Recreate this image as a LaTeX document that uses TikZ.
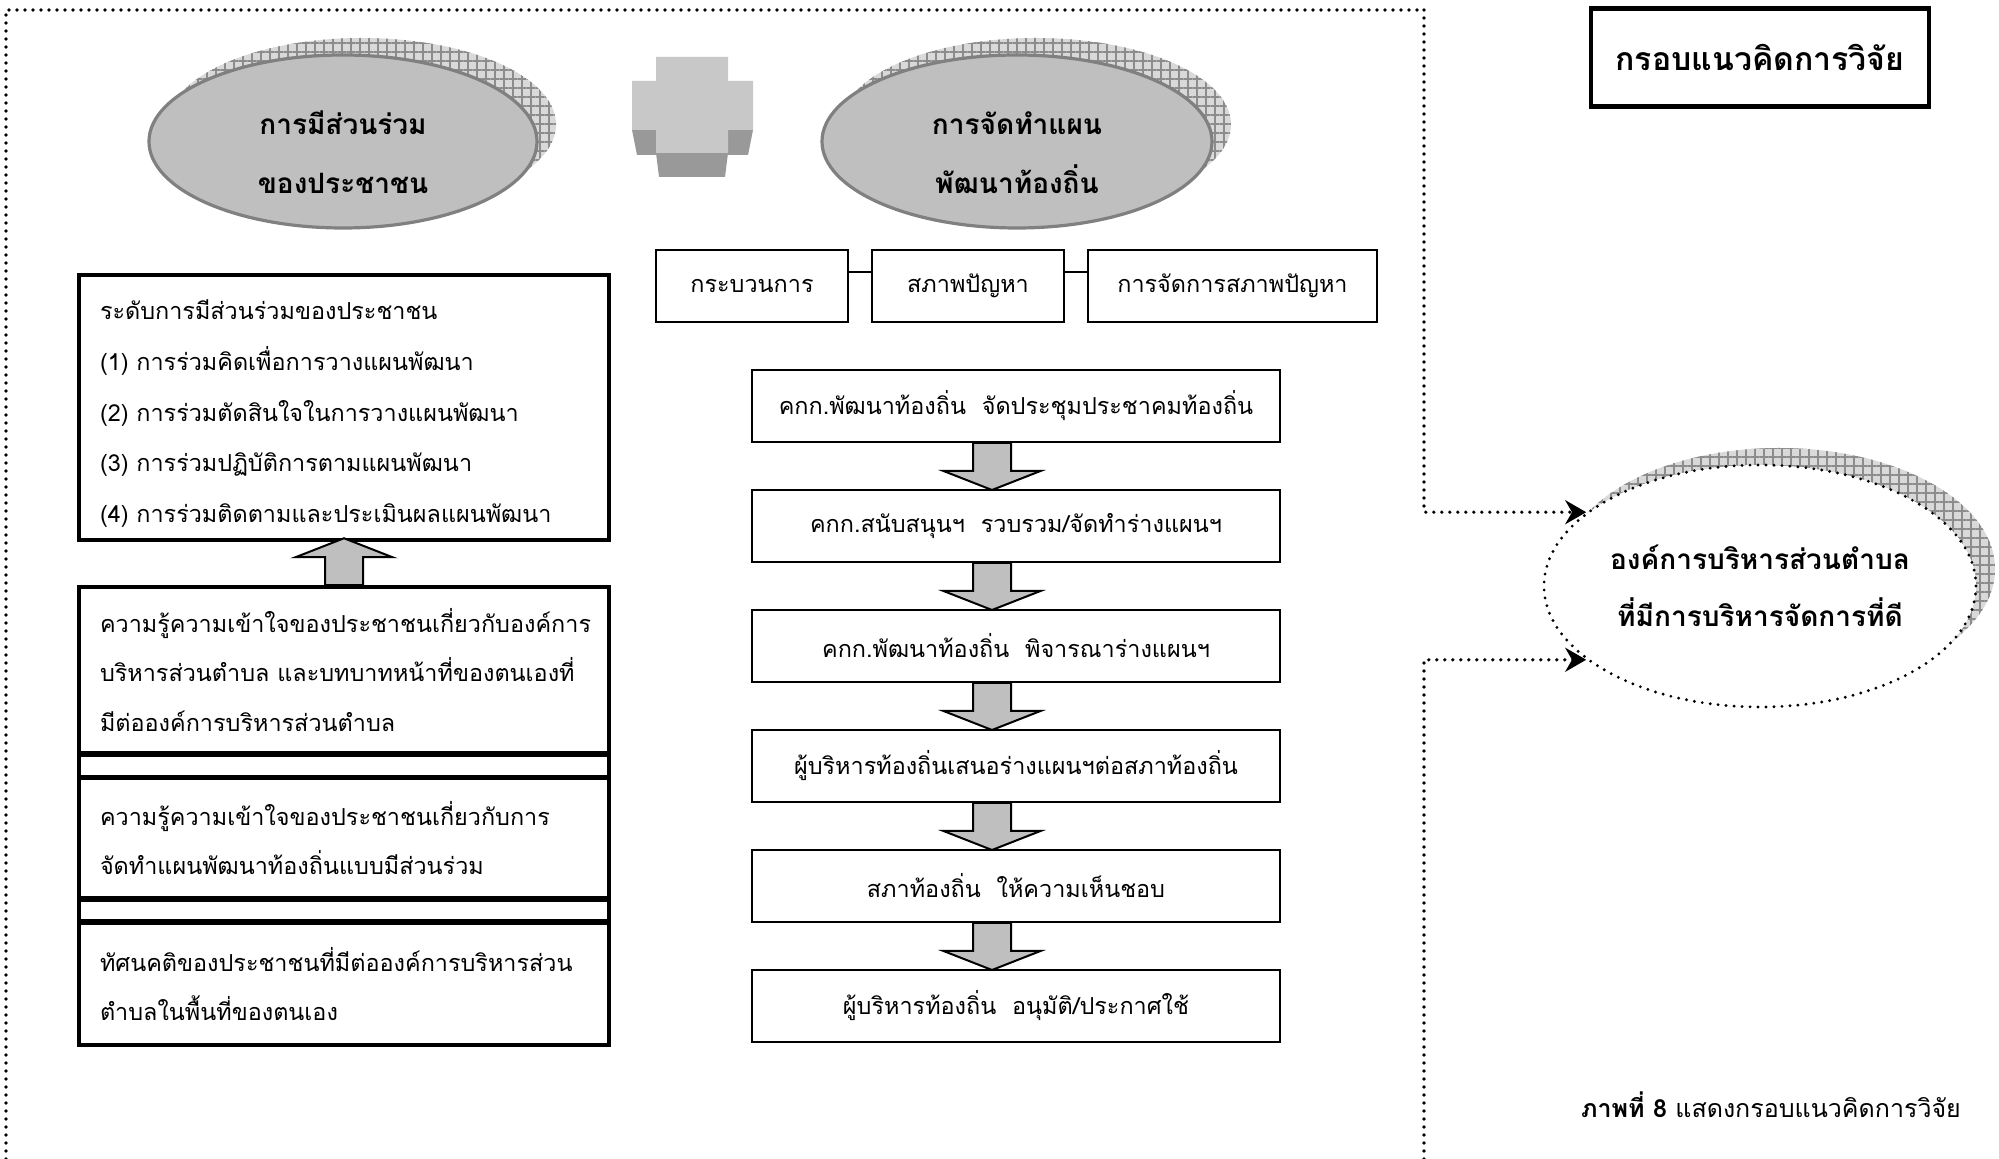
\documentclass[tikz,border=0pt]{standalone}
\usepackage{fontspec}
\setmainfont{Loma}[Script=Thai]
\usetikzlibrary{positioning,shapes.geometric,patterns.meta,shadows,arrows.meta,backgrounds}
\definecolor{plusface}{HTML}{C8C8C8}
\definecolor{plusside}{HTML}{999999}
\newcommand{\bodyfont}{\fontsize{11.7pt}{24.75pt}\selectfont}
\tikzset{
  dots/.style={line width=1.8pt, dash pattern=on 0pt off 4pt, line cap=round},
  hatchshadow/.style={general shadow={shadow xshift=9.5pt, shadow yshift=8.5pt, solid, fill=gray!30, draw=none},
    general shadow={shadow xshift=9.5pt, shadow yshift=8.5pt, solid, draw=none, pattern={Hatch[distance=4.5pt,angle=0,line width=0.6pt]}, pattern color=gray!90}},
  topic/.style={ellipse, draw=gray, line width=1.6pt, fill=gray!50, inner sep=0pt,
    minimum width=194pt, minimum height=86.5pt, hatchshadow},
  topictext/.style={align=center, font=\fontsize{14pt}{29.5pt}\bfseries\selectfont},
  goalshape/.style={ellipse, hatchshadow, draw, dots, line width=1.6pt, fill=white, inner sep=0pt, align=center,
    minimum width=216pt, minimum height=121pt, font=\fontsize{14pt}{28.5pt}\bfseries\selectfont},
  lbox/.style={draw, line width=1.75pt, minimum width=265pt, text width=244pt, inner xsep=10.5pt, align=left, font=\bodyfont},
  pbox/.style={draw, line width=1pt, minimum height=36pt, font=\bodyfont},
  row/.style={draw, line width=1pt, minimum width=264pt, minimum height=36pt, font=\bodyfont},
  pics/blkdown/.style={code={\draw[fill=gray!50, line width=1pt] (-19,0) -- (19,0) -- (19,28) -- (48.5,28) -- (0,47) -- (-48.5,28) -- (-19,28) -- cycle;}}
}
\begin{document}
\begin{tikzpicture}[x=0.5pt, y=-0.5pt]
  \path[use as bounding box, fill=white] (0,0) rectangle (1999,1159);

  % left side
  \node[lbox, minimum height=132.5pt, font=\fontsize{11.7pt}{25.4pt}\selectfont] (lvl) at (344,407.5) {\rule{0pt}{16pt}ระดับการมีส่วนร่วมของประชาชน\\(1) การร่วมคิดเพื่อการวางแผนพัฒนา\\(2) การร่วมตัดสินใจในการวางแผนพัฒนา\\(3) การร่วมปฏิบัติการตามแผนพัฒนา\\(4) การร่วมติดตามและประเมินผลแผนพัฒนา};
  \node[lbox, minimum height=83pt] (know1) at (344,670) {ความรู้ความเข้าใจของประชาชนเกี่ยวกับองค์การ\\บริหารส่วนตำบล และบทบาทหน้าที่ของตนเองที่\\มีต่อองค์การบริหารส่วนตำบล};
  \node[lbox, minimum height=11pt] (sp1) at (344,766) {};
  \node[lbox, minimum height=60pt] (know2) at (344,838) {ความรู้ความเข้าใจของประชาชนเกี่ยวกับการ\\จัดทำแผนพัฒนาท้องถิ่นแบบมีส่วนร่วม};
  \node[lbox, minimum height=10.5pt] (sp2) at (344,910.5) {};
  \node[lbox, minimum height=61pt] (att) at (344,984) {ทัศนคติของประชาชนที่มีต่อองค์การบริหารส่วน\\ตำบลในพื้นที่ของตนเอง};
  \pic[yscale=-1] at (know1.north) {blkdown};

  % right side
  \node[pbox, minimum width=96pt] (bA) at (752,286) {กระบวนการ};
  \node[pbox, minimum width=96pt] (bB) at (968,286) {สภาพปัญหา};
  \node[pbox, minimum width=144.5pt] (bC) at (1232.5,286) {การจัดการสภาพปัญหา};
  \draw[line width=1pt] ([yshift=-11.5pt]bA.north east) -- ([yshift=-11.5pt]bB.north west);
  \draw[line width=1pt] ([yshift=-11.5pt]bB.north east) -- ([yshift=-11.5pt]bC.north west);

  \foreach \t [count=\i] in {คกก.พัฒนาท้องถิ่น~~จัดประชุมประชาคมท้องถิ่น, คกก.สนับสนุนฯ~~รวบรวม/จัดทำร่างแผนฯ,
      คกก.พัฒนาท้องถิ่น~~พิจารณาร่างแผนฯ, ผู้บริหารท้องถิ่นเสนอร่างแผนฯต่อสภาท้องถิ่น,
      สภาท้องถิ่น~~ให้ความเห็นชอบ, ผู้บริหารท้องถิ่น~~อนุมัติ/ประกาศใช้}
    \node[row] (r\i) at (1016,286+120*\i) {\t};
  \foreach \i in {1,...,5}
    \pic at ([xshift=-12pt]r\i.south) {blkdown};

  \coordinate (top) at (1016,178);
  \begin{scope}[on background layer]
    \draw[line width=1pt] (56,178) rectangle (632,1113);
    \draw[line width=1pt] (bA.north) |- (top) -| (r6.east |- bC.north);
    \draw[line width=1pt] (bA.south) -- (bA.south |- r6.south);
    \draw[line width=1pt] (r6.east |- bC.south) -- (r6.south east);
  \end{scope}

  % plus sign
  \fill[plusside] (632,130) -- (656,130) -- (656,155) -- (637,155) -- cycle;
  \fill[plusside] (728,130) -- (753,130) -- (748,155) -- (728,155) -- cycle;
  \fill[plusside] (656,153) -- (728,153) -- (725,177) -- (659,177) -- cycle;
  \fill[plusface] (656,57) -- (728,57) -- (728,81) -- (753,81) -- (753,130) -- (728,130) -- (728,153)
    -- (656,153) -- (656,130) -- (632,130) -- (632,81) -- (656,81) -- cycle;

  \node[topic] (part) at (343,141.5) {};
  \node[topictext] (partT) at ([yshift=-5.5pt]part.center) {การมีส่วนร่วม\\ของประชาชน};
  \node[topic, minimum width=195pt] (plan) at (1017,141.5) {};
  \node[topictext] (planT) at ([yshift=-5.5pt]plan.center) {การจัดทำแผน\\พัฒนาท้องถิ่น};

  \node[draw, line width=2.25pt, minimum width=169pt, minimum height=49pt,
    font=\fontsize{16pt}{20pt}\bfseries\selectfont] (title) at (1760,57.5) {กรอบแนวคิดการวิจัย};

  \node[goalshape] (goal) at (1760,586) {องค์การบริหารส่วนตำบล\\ที่มีการบริหารจัดการที่ดี};

  % dotted frame
  \coordinate (nw) at (6,10);
  \coordinate (ne) at (1424,10);
  \coordinate (sw) at (6,1159);
  \coordinate (se) at (1424,1159);
  \draw[dots] (sw) -- (nw) -- (ne);
  \draw[dots, -{Stealth[length=10.5pt, width=12pt]}] (ne) |- (goal.157.5);
  \draw[dots, -{Stealth[length=10.5pt, width=12pt]}] (se) |- (goal.-157.5);

  \node[font=\fontsize{12.5pt}{16pt}\selectfont] (cap) at (1771,1105) {\textbf{ภาพที่ 8} แสดงกรอบแนวคิดการวิจัย};
\end{tikzpicture}
\end{document}
